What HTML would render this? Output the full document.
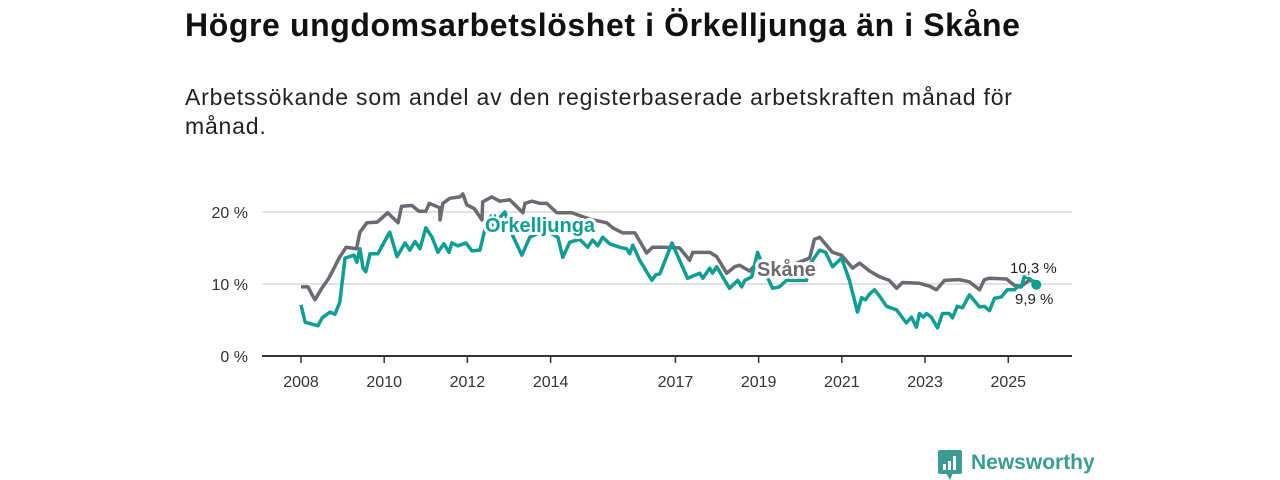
<!DOCTYPE html>
<html><head><meta charset="utf-8"><style>
body{margin:0;width:1280px;height:480px;background:#fff;font-family:"Liberation Sans",sans-serif;overflow:hidden;position:relative}
#title{position:absolute;left:185px;top:7px;font-size:32px;font-weight:bold;color:#111;letter-spacing:0.6px;white-space:nowrap}
#sub{position:absolute;left:185px;top:83px;font-size:23px;color:#222;line-height:29px;width:860px;letter-spacing:0.8px}
svg{position:absolute;left:0;top:0}
</style></head><body>
<div id="title">Högre ungdomsarbetslöshet i Örkelljunga än i Skåne</div>
<div id="sub">Arbetssökande som andel av den registerbaserade arbetskraften månad för<br>månad.</div>
<svg id="chart" width="1280" height="480"></svg>
<script>
const yTicks=[0,10,20];
const yTickLabels=["0 %","10 %","20 %"];
const xTicks=[2008,2010,2012,2014,2017,2019,2021,2023,2025];
const skaneMonths=[0,2,4,6,8,9,11,13,16,17,19,22,25,28,29,32,34,36,37,40,40.1,40.9,42.9,45.8,46.7,47.8,49.9,52.2,52.4,55,57.3,60.2,64,64.6,66.6,68.9,70.9,73.8,78.1,83.3,88.2,89.9,92.8,96.3,99.7,101.4,104.9,109.2,112.1,113,117.9,119.9,122.8,125.1,126.5,129.4,131.7,140.9,146.7,148.1,149.6,153.3,155.9,159.1,161.1,164,166.9,169.7,171.8,173.5,178.4,181.3,183.3,185.6,189.9,192.8,195.7,197.1,198.6,203.5,205.8,207.8,210,212.1];
const skaneValues=[9.6,9.6,7.8,9.4,10.8,11.7,13.6,15.1,14.9,17.2,18.5,18.6,19.9,18.5,20.8,20.9,20.1,20.1,21.2,20.6,18.9,21.2,21.9,22.1,22.5,21.0,20.5,18.9,21.4,22.1,21.5,21.7,19.9,21.2,21.5,21.2,21.2,19.9,19.9,19.0,18.5,17.8,17.1,17.1,14.3,15.1,15.1,15.0,13.3,14.4,14.4,13.8,11.5,12.4,12.6,11.8,13.0,12.5,13.6,16.2,16.5,14.4,14.0,12.2,12.9,11.8,11.0,10.5,9.4,10.2,10.1,9.7,9.2,10.5,10.6,10.3,9.2,10.6,10.8,10.7,9.8,9.7,10.5,10.3];
const orkMonths=[0,1.2,4.9,6.1,8.4,9.8,11.2,12.7,15.3,16.1,17,17.9,18.7,19.9,22.2,24.2,25.6,27.7,30,31.4,32.9,34.3,36,37.8,39.5,41.2,42.7,43.5,45.2,47.6,49.3,51.6,53,55.9,58.8,60.8,63.7,66,70.3,74.1,75.5,77.5,80.4,82.7,84.1,85.6,87,89,91.9,93.9,94.8,95.7,97.7,101.2,102.4,103.5,107,109.2,111.5,115,115.9,117.9,118.7,119.9,123.6,126,127.1,128,130,131.7,134,136,138,140,145.8,146.7,149.6,151.3,153.3,155.9,158.2,160.5,161.7,162.8,164,165.4,166.9,168.9,171.8,174.6,176.1,177.5,178.4,179.5,180.4,181.8,183.6,185,187,187.9,189.3,190.8,192.8,195.7,197.1,198.6,200,202,203.7,205.8,206.6,207.8,208.6,210,212.1];
const orkValues=[7.1,4.7,4.2,5.3,6.1,5.8,7.5,13.6,14.0,13.0,14.9,12.2,11.7,14.2,14.2,16.0,17.2,13.8,15.7,14.7,15.9,14.9,17.8,16.5,14.4,15.6,14.4,15.7,15.3,15.7,14.6,14.7,17.5,18.5,20.0,17.0,14.0,16.5,17.5,16.5,13.7,15.8,16.2,15.1,16.1,15.3,16.5,15.6,15.1,14.9,14.2,15.4,13.3,10.5,11.3,11.4,15.7,13.3,10.8,11.5,10.8,12.2,11.5,12.4,9.4,10.5,9.6,10.5,11.0,14.4,11.5,9.4,9.6,10.5,10.5,12.7,14.7,14.4,12.4,13.6,10.5,6.1,8.1,7.8,8.6,9.2,8.3,6.9,6.4,4.6,5.4,4.0,5.9,5.4,5.9,5.4,3.9,5.9,5.9,5.3,6.9,6.7,8.5,6.8,6.9,6.3,8.0,8.2,9.2,9.2,9.6,9.6,11.0,10.8,9.9];
const TEAL="#0f9e94", GRAY="#6c6a70";
const NS="http://www.w3.org/2000/svg";
const svg=document.getElementById('chart');
const X0=262,X1=1072;
function xm(m){return 301+m*3.467;}
function xy(yr){return xm((yr-2008)*12);}
function ys(v){return 356-v*7.2;}
function mk(tag,attrs,parent){const e=document.createElementNS(NS,tag);for(const k in attrs)e.setAttribute(k,attrs[k]);(parent||svg).appendChild(e);return e;}
yTicks.forEach((t,i)=>{
  if(t>0){const g=mk('line',{x1:X0,x2:X1,y1:ys(t),y2:ys(t),stroke:'#d8d8d8','stroke-width':1.5});
  
  }
  const l=mk('text',{x:248,y:ys(t)+6,'text-anchor':'end','font-size':16,fill:'#333'});
  l.textContent=yTickLabels[i];
  
  
});
xTicks.forEach(t=>{
  const tk=mk('line',{x1:xy(t),x2:xy(t),y1:356,y2:363,stroke:'#333','stroke-width':1.5});
  
  
  const l=mk('text',{x:xy(t),y:387,'text-anchor':'middle','font-size':16,fill:'#333'});
  l.textContent=t;
  
  
});
function line(ms,vs,col,name){
  const p=mk('polyline',{points:ms.map((m,i)=>xm(m)+','+ys(vs[i])).join(' '),fill:'none',stroke:col,'stroke-width':3.5,'stroke-linejoin':'round'});
  
  
}
line(skaneMonths,skaneValues,GRAY,'skane-line');
line(orkMonths,orkValues,TEAL,'orkelljunga-line');
const ax=mk('line',{x1:X0,x2:X1,y1:356,y2:356,stroke:'#333','stroke-width':2});


const lo=orkMonths.length-1;
const dot=mk('circle',{cx:xm(orkMonths[lo]),cy:ys(orkValues[lo]),r:5,fill:TEAL});


function lab(x,y,txt,col,size,bold,name){
  const t=mk('text',{x:x,y:y,'font-size':size,'font-weight':bold?'bold':'normal',fill:col,stroke:'#fff','stroke-width':bold?6:4,'paint-order':'stroke','stroke-linejoin':'round'});
  t.textContent=txt;
  
  
}
lab(485,232,'Örkelljunga',TEAL,20,true,'orkelljunga-label');
lab(757,276,'Skåne',GRAY,20,true,'skane-label');
lab(1010,273,'10,3 %','#222',15,false,'skane-end-value');
lab(1015,304,'9,9 %','#222',15,false,'orkelljunga-end-value');
const g=mk('g',{});


mk('rect',{x:938,y:450,width:24,height:24,rx:2,fill:'#3a9c92'},g);
mk('polygon',{points:'946,473 953,473 950,480',fill:'#3a9c92'},g);
mk('rect',{x:943,y:464,width:3,height:6,fill:'#fff'},g);
mk('rect',{x:948,y:461,width:3,height:9,fill:'#fff'},g);
mk('rect',{x:953,y:456,width:3,height:14,fill:'#fff'},g);
const nt=mk('text',{x:971,y:469,'font-size':21,'font-weight':'bold',fill:'#3a9c92'},g);
nt.textContent='Newsworthy';
</script>
</body></html>
